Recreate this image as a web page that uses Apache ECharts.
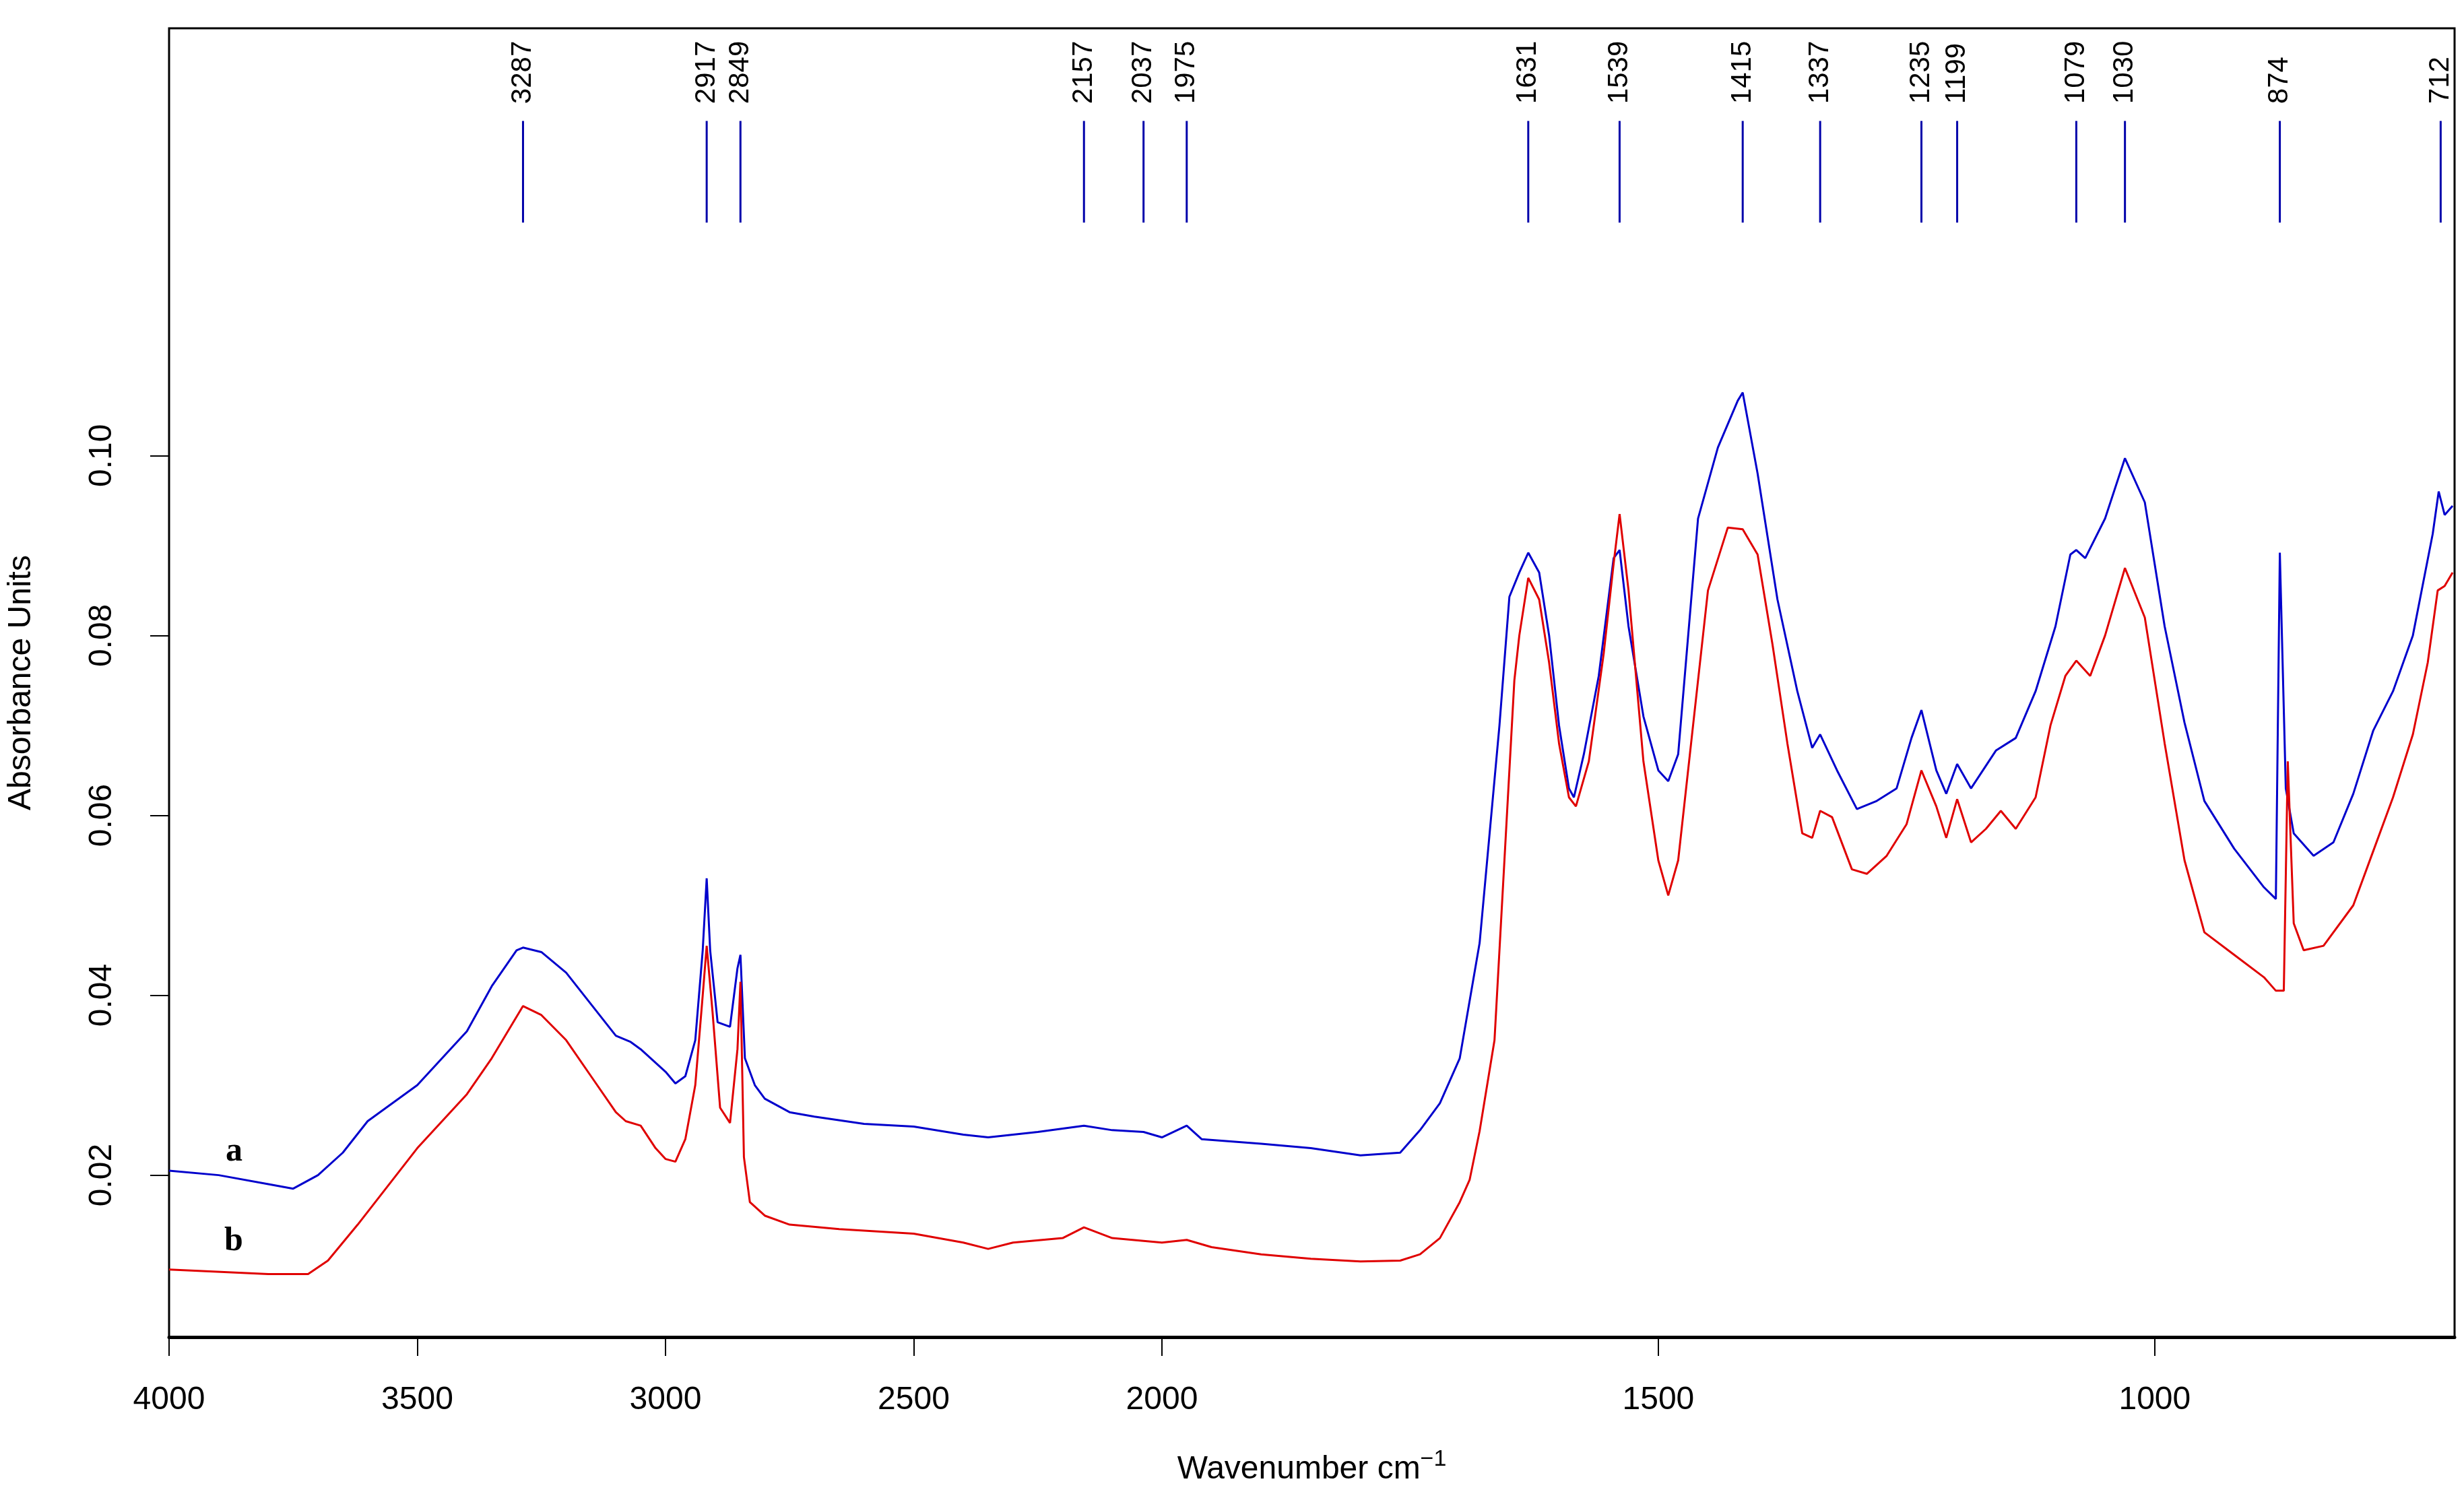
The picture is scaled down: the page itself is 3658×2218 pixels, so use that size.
<!DOCTYPE html>
<html>
<head>
<meta charset="utf-8">
<script src="https://cdn.jsdelivr.net/npm/echarts@6/dist/echarts.min.js"></script>
<style>html,body{margin:0;padding:0;background:#fff}#chart{width:3658px;height:2218px}</style>
</head>
<body>
<div id="chart"></div>
<script>
// spectrum a (blue)
var waveA = [4000,3900,3800,3750,3700,3650,3600,3500,3400,3350,3300,3287,3250,3200,3150,3100,3070,3050,3000,2980,2960,2940,2925,2917,2910,2895,2870,2855,2849,2840,2820,2800,2750,2700,2600,2500,2400,2350,2250,2157,2100,2037,2000,1975,1960,1900,1850,1800,1760,1740,1720,1700,1680,1660,1650,1640,1631,1620,1610,1600,1590,1585,1575,1560,1545,1539,1530,1515,1500,1490,1480,1460,1440,1420,1415,1400,1380,1360,1345,1337,1320,1300,1280,1260,1245,1235,1220,1210,1199,1185,1160,1140,1120,1100,1085,1079,1070,1050,1030,1010,990,970,950,920,890,878,874,868,860,840,820,800,780,760,740,720,714,708,700];
var absA = [0.0205,0.020,0.019,0.0185,0.020,0.0225,0.026,0.030,0.036,0.041,0.0450,0.0453,0.0448,0.0425,0.039,0.0355,0.0348,0.034,0.0315,0.0302,0.031,0.035,0.045,0.053,0.045,0.037,0.0365,0.043,0.0445,0.033,0.030,0.0285,0.027,0.0265,0.0257,0.0254,0.0245,0.0242,0.0248,0.0255,0.025,0.0248,0.0242,0.0255,0.024,0.0235,0.023,0.0222,0.0225,0.025,0.028,0.033,0.0458,0.070,0.0843,0.087,0.0892,0.087,0.080,0.070,0.063,0.062,0.0668,0.0755,0.0886,0.0895,0.081,0.071,0.065,0.0638,0.0668,0.093,0.1009,0.1061,0.107,0.098,0.084,0.0738,0.0675,0.069,0.065,0.0607,0.0616,0.063,0.0686,0.0717,0.065,0.0624,0.0657,0.063,0.0672,0.0686,0.0738,0.081,0.089,0.0895,0.0886,0.093,0.0997,0.0948,0.081,0.0703,0.0616,0.0563,0.052,0.0507,0.0892,0.063,0.058,0.0555,0.057,0.0624,0.0694,0.0738,0.080,0.0913,0.096,0.0934,0.0944];
// spectrum b (red)
var waveB = [4000,3800,3720,3680,3620,3500,3400,3350,3287,3250,3200,3150,3100,3080,3050,3020,3000,2980,2960,2940,2925,2917,2905,2890,2870,2855,2849,2842,2830,2800,2750,2650,2500,2400,2350,2300,2200,2157,2100,2000,1975,1950,1900,1850,1800,1760,1740,1720,1700,1690,1680,1665,1655,1645,1640,1631,1620,1610,1600,1590,1583,1570,1555,1545,1539,1530,1515,1500,1490,1480,1465,1450,1430,1415,1400,1385,1370,1355,1345,1337,1325,1305,1290,1270,1250,1235,1220,1210,1199,1185,1170,1155,1140,1120,1105,1090,1079,1065,1050,1030,1010,990,970,950,920,890,878,870,866,860,850,830,800,780,760,740,725,715,708,700];
var absB = [0.0095,0.009,0.009,0.0105,0.0145,0.023,0.029,0.033,0.0388,0.0378,0.035,0.031,0.027,0.026,0.0255,0.023,0.0218,0.0215,0.024,0.030,0.040,0.0455,0.038,0.0275,0.0258,0.034,0.0415,0.022,0.017,0.0155,0.0145,0.014,0.0135,0.0125,0.0118,0.0125,0.013,0.0142,0.013,0.0125,0.0128,0.012,0.0112,0.0107,0.0104,0.0105,0.0112,0.013,0.017,0.0195,0.0249,0.035,0.055,0.075,0.080,0.0864,0.084,0.077,0.068,0.062,0.061,0.066,0.078,0.088,0.0935,0.085,0.066,0.055,0.0511,0.055,0.070,0.085,0.092,0.0918,0.089,0.079,0.068,0.058,0.0575,0.0605,0.0598,0.054,0.0535,0.0555,0.059,0.065,0.061,0.0575,0.0618,0.057,0.0585,0.0605,0.0585,0.062,0.070,0.0755,0.0772,0.0755,0.080,0.0875,0.082,0.068,0.055,0.047,0.0445,0.042,0.0405,0.0405,0.066,0.048,0.045,0.0455,0.050,0.056,0.062,0.069,0.077,0.085,0.0855,0.087];
var peaks = [3287,2917,2849,2157,2037,1975,1631,1539,1415,1337,1235,1199,1079,1030,874,712];
var xTickLabels = [4000,3500,3000,2500,2000,1500,1000];
var yTickLabels = [0.02,0.04,0.06,0.08,0.10];

// broken wavenumber scale: below 2000 cm-1 the axis is stretched 2x
function toT(w) { return w >= 2000 ? 4000 - w : 2000 + 2 * (2000 - w); }
function fromT(t) { return t <= 2000 ? 4000 - t : 2000 - (t - 2000) / 2; }

function pairs(wave, abs) {
	var out = [];
	for (var i = 0; i < wave.length; i++) out.push([toT(wave[i]), abs[i]]);
	return out;
}

var chart = echarts.init(document.getElementById('chart'));
var option = {
	animation: false,
	grid: { left: 240, right: 14, top: 42, bottom: 233, show: true, borderColor: '#000', borderWidth: 3 },
	xAxis: {
		type: 'value', min: 0, max: toT(698),
		name: '{n|Wavenumber cm}{s|−1}', nameLocation: 'middle', nameGap: 165,
		nameTextStyle: { rich: { n: { fontSize: 48, fontFamily: 'Liberation Sans', color: '#000' }, s: { fontSize: 34, fontFamily: 'Liberation Sans', color: '#000', verticalAlign: 'top', padding: [0,0,30,0] } } },
		splitLine: { show: false },
		axisLine: { lineStyle: { color: '#000', width: 5 } },
		axisTick: { length: 28, lineStyle: { color: '#000', width: 2 }, customValues: xTickLabels.map(toT) },
		axisLabel: { fontSize: 48, fontFamily: 'Liberation Sans', color: '#000', margin: 70, customValues: xTickLabels.map(toT),
			formatter: function(v) { return Math.round(fromT(v)); } }
	},
	yAxis: {
		type: 'value', min: 0.002, max: 0.1475,
		name: 'Absorbance Units', nameLocation: 'middle', nameGap: 195,
		nameTextStyle: { fontSize: 48, fontFamily: 'Liberation Sans', color: '#000' },
		splitLine: { show: false },
		axisLine: { lineStyle: { color: '#000', width: 2 } },
		axisTick: { length: 28, lineStyle: { color: '#000', width: 2 }, customValues: yTickLabels },
		axisLabel: { fontSize: 48, fontFamily: 'Liberation Sans', color: '#000', rotate: 90, margin: 75, customValues: yTickLabels,
			formatter: function(v) { return v.toFixed(2); } }
	},
	series: [
		{ type: 'line', data: pairs(waveA, absA), showSymbol: false, lineStyle: { color: '#0000cc', width: 3 } },
		{ type: 'line', data: pairs(waveB, absB), showSymbol: false, lineStyle: { color: '#e00000', width: 3 } },
		{
			type: 'custom',
			data: peaks.map(function(p) { return [toT(p), p]; }),
			renderItem: function(params, api) {
				var t = api.value(0);
				var top = api.coord([t, 0.1372]);
				var bot = api.coord([t, 0.1259]);
				var lab = api.coord([t, 0.1391]);
				return { type: 'group', children: [
					{ type: 'line', shape: { x1: top[0], y1: top[1], x2: bot[0], y2: bot[1] }, style: { stroke: '#0000aa', lineWidth: 3 } },
					{ type: 'text', x: lab[0], y: lab[1], rotation: Math.PI / 2,
						style: { text: String(api.value(1)), fontSize: 42, fontFamily: 'Liberation Sans', fill: '#000', align: 'left', verticalAlign: 'middle' } }
				] };
			}
		}
	],
	graphic: [
		{ type: 'text', left: 335, top: 1685, style: { text: 'a', fontSize: 50, fontWeight: 'bold', fontFamily: 'Liberation Serif', fill: '#000' } },
		{ type: 'text', left: 333, top: 1818, style: { text: 'b', fontSize: 50, fontWeight: 'bold', fontFamily: 'Liberation Serif', fill: '#000' } }
	]
};
chart.setOption(option);
</script>
</body>
</html>
